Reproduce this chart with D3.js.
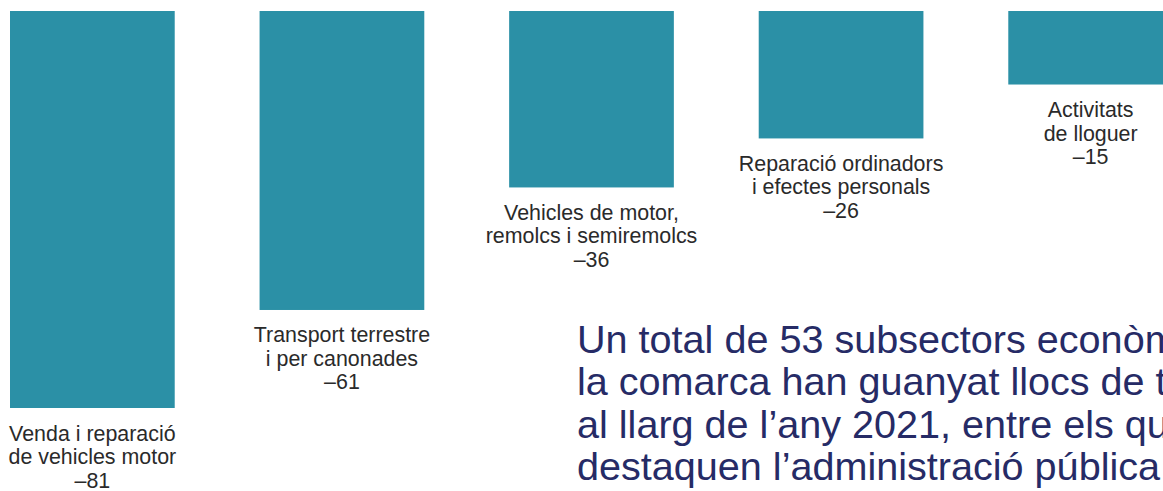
<!DOCTYPE html>
<html>
<head>
<meta charset="utf-8">
<script src="https://cdn.jsdelivr.net/npm/d3@7"></script>
<style>
  html, body { margin: 0; padding: 0; background: #fff; overflow: hidden; }
  svg { display: block; }
</style>
</head>
<body>
<div id="chart"></div>
<script>
var width = 1163;
var height = 491;

// subsectors that lost the most jobs (2021)
var categories = [
  "Venda i reparació\nde vehicles motor",
  "Transport terrestre\ni per canonades",
  "Vehicles de motor,\nremolcs i semiremolcs",
  "Reparació ordinadors\ni efectes personals",
  "Activitats\nde lloguer"
];
var values = [-81, -61, -36, -26, -15];

// text block at the bottom right (cut by the right edge, as in the source)
var noteLines = [
  "Un total de 53 subsectors econòm",
  "la comarca han guanyat llocs de tr",
  "al llarg de l’any 2021, entre els qua",
  "destaquen l’administració pública"
];

var barColor = "#2b90a6";
var labelColor = "#2a2a2a";
var noteColor = "#262b66";

var svg = d3.select("#chart")
  .append("svg")
  .attr("width", width)
  .attr("height", height);

var x = d3.scaleBand()
  .domain(d3.range(categories.length))
  .range([10, 1173])
  .paddingInner(0.34)
  .paddingOuter(0);

// bars hang down from the top line
var y = d3.scaleLinear()
  .domain([0, -81])
  .range([11, 408]);

var bars = svg.selectAll("g.bar")
  .data(values)
  .enter().append("g")
  .attr("class", "bar");

bars.append("rect")
  .attr("x", function(d, i) { return x(i); })
  .attr("y", y(0))
  .attr("width", x.bandwidth())
  .attr("height", function(d) { return y(d) - y(0); })
  .attr("fill", barColor);

var labels = bars.append("text")
  .attr("text-anchor", "middle")
  .attr("font-family", "'Liberation Sans', Arial, Helvetica, sans-serif")
  .attr("font-size", 21.4)
  .attr("fill", labelColor)
  .attr("transform", function(d, i) {
    return "translate(" + (x(i) + x.bandwidth() / 2) + "," + (y(d) + 32.5) + ")";
  });

labels.each(function(d, i) {
  var lines = categories[i].split("\n").concat([String(d).replace("-", "–")]);
  d3.select(this).selectAll("tspan")
    .data(lines)
    .enter().append("tspan")
    .attr("x", 0)
    .attr("y", function(l, j) { return j * 23.5; })
    .text(function(l) { return l; });
});

svg.append("text")
  .attr("font-family", "'Liberation Sans', Arial, Helvetica, sans-serif")
  .attr("font-size", 39.6)
  .attr("fill", noteColor)
  .selectAll("tspan")
  .data(noteLines)
  .enter().append("tspan")
  .attr("x", 577)
  .attr("y", function(d, i) { return 353 + i * 42.4; })
  .text(function(d) { return d; });
</script>
</body>
</html>
